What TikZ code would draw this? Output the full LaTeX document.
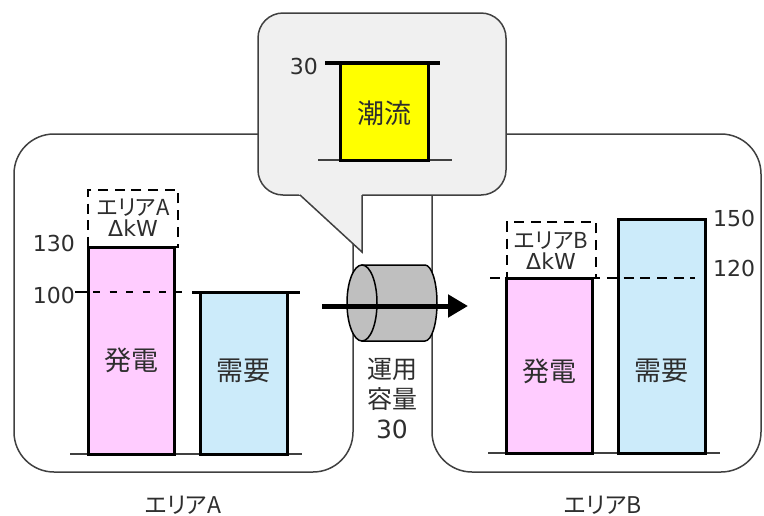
\documentclass[tikz,border=0pt]{standalone}
\usepackage{fontspec}
\setmainfont{Noto Sans CJK JP}[RawFeature=+palt]
\newfontfamily\latf{DejaVu Sans}
\usetikzlibrary{arrows.meta}
\definecolor{pinkfill}{HTML}{FFCCFF}
\definecolor{bluefill}{HTML}{CCEBFA}
\definecolor{yelfill}{HTML}{FFFF00}
\definecolor{bubblefill}{HTML}{F0F0F0}
\definecolor{cylfill}{HTML}{BFBFBF}
\definecolor{txt}{HTML}{2E2E2E}
\definecolor{edge}{HTML}{404040}
\begin{document}
\begin{tikzpicture}[x=1pt,y=-1pt,
  area/.style={draw=edge, line width=1.5, rounded corners=40},
  bar/.style={draw=black, line width=3, anchor=north west, inner sep=0, outer sep=0},
  bartext/.style={text=txt, inner sep=0, font=\fontsize{27}{27}\selectfont},
  baseln/.style={draw=edge, line width=1.5},
  dsh/.style={draw=black, line width=2.5, dash pattern=on 10 off 6.7},
  dbox/.style={dsh, anchor=north west, inner sep=0, outer sep=0},
  dtext/.style={text=txt, inner sep=0, align=center, font=\fontsize{22}{21}\selectfont},
  num/.style={text=txt, font=\latf\fontsize{22}{22}\selectfont, inner sep=0},
  lbl/.style={text=txt, font=\fontsize{23}{23}\selectfont, inner sep=0},
  cyl/.style={fill=cylfill, draw=black, line width=1.5}]
\useasboundingbox (0,0) rectangle (764,515);
% area outlines
\draw[area] (280,134) -- (14,134) -- (14,472) -- (353,472) -- (353,215);
\draw[area] (432,185) -- (432,472) -- (761,472) -- (761,134) -- (490,134);
% callout bubble
\node[draw=edge, fill=bubblefill, line width=1.5, rounded corners=25, minimum width=248, minimum height=182, inner sep=0] (bubble) at (382,104) {};
\fill[bubblefill] (300,195) -- (362,252) -- (362,190) -- (294.6,190) -- cycle;
\coordinate (tA) at (300,195);
\coordinate (tB) at (362,252);
\coordinate (tC) at (362,195);
\draw[edge, line width=1.5, line join=miter] (tA) -- (tB) -- (tC);
% flow bar in bubble
\coordinate (fb1) at (318,160); \coordinate (fb2) at (452,160);
\draw[baseln] (fb1) -- (fb2);
\node[bar, fill=yelfill, minimum width=88, minimum height=97] (flow) at (340,63) {};
\node[bartext] (flowt) at (384,113) {潮流};
\coordinate (ft1) at (325,63); \coordinate (ft2) at (440,63);
\draw[line width=4] (ft1) -- (ft2);
\node[num, anchor=east] (n30) at (318,66) {30};
% area A
\coordinate (ba1) at (70,454); \coordinate (ba2) at (302,454);
\draw[baseln] (ba1) -- (ba2);
\node[dbox, minimum width=90, minimum height=57] (dA) at (88,190) {};
\node[dtext] (dAt) at (133,218) {エリアA\\[0pt]{\latf\fontsize{22}{22}\selectfont ΔkW}};
\node[bar, fill=pinkfill, minimum width=86, minimum height=207] (genA) at (88,247) {};
\node[bartext] (genAt) at (131,360) {発電};
\node[bar, fill=bluefill, minimum width=87, minimum height=162] (demA) at (200,292) {};
\node[bartext] (demAt) at (243,371) {需要};
\coordinate (dt1) at (192,292); \coordinate (dt2) at (300,292);
\draw[line width=3] (dt1) -- (dt2);
\coordinate (k1) at (75,292); \coordinate (k2) at (88,292);
\coordinate (k3) at (93,292); \coordinate (k4) at (182,292);
\draw[line width=2.5] (k1) -- (k2);
\draw[line width=2.5, dash pattern=on 7 off 9.5] (k3) -- (k4);
\node[num, anchor=east] (n130) at (75,243) {130};
\node[num, anchor=east] (n100) at (75,295) {100};
\node[lbl] (areaA) at (183,505) {エリアA};
% area B
\coordinate (bb1) at (488,453); \coordinate (bb2) at (720,453);
\draw[baseln] (bb1) -- (bb2);
\node[dbox, minimum width=89, minimum height=56] (dB) at (507,222) {};
\node[dtext] (dBt) at (551,251) {エリアB\\[0pt]{\latf\fontsize{22}{22}\selectfont ΔkW}};
\node[bar, fill=pinkfill, minimum width=86, minimum height=175] (genB) at (506,278) {};
\node[bartext] (genBt) at (549,371) {発電};
\node[bar, fill=bluefill, minimum width=87, minimum height=234] (demB) at (618,219) {};
\node[bartext] (demBt) at (661,371) {需要};
\coordinate (m1) at (490,278); \coordinate (m2) at (695,278);
\draw[dsh] (m1) -- (m2);
\node[num, anchor=west] (n150) at (713,218) {150};
\node[num, anchor=west] (n120) at (713,268) {120};
\node[lbl] (areaB) at (603,505) {エリアB};
% cylinder and arrow
\fill[cyl] (362,265) -- (425,265) arc[start angle=-90, end angle=90, x radius=12, y radius=38] -- (362,341) -- cycle;
\draw[cyl] (362,303) ellipse [x radius=15, y radius=38];
\coordinate (arrS) at (322,306);
\coordinate (arrE) at (468,306);
\draw[line width=5, -{Triangle[length=20, width=22]}] (arrS) -- (arrE);
\node[text=txt, align=center, inner sep=0, font=\fontsize{25}{30}\selectfont] (cap) at (392,398) {運用\\容量\\{\latf 30}};
\end{tikzpicture}
\end{document}
